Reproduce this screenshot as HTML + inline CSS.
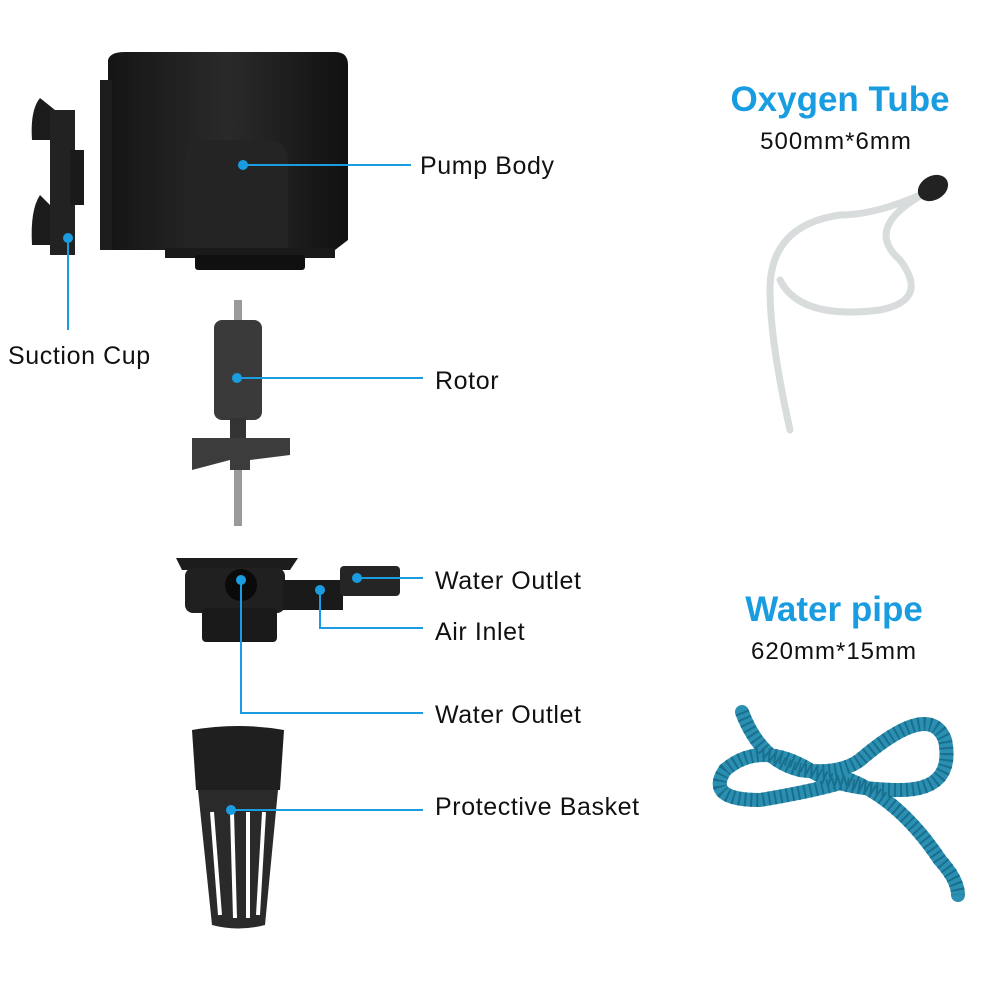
<!DOCTYPE html>
<html><head><meta charset="utf-8"><style>
html,body{margin:0;padding:0;background:#fff;}
svg{display:block}
text{font-family:"Liberation Sans",sans-serif;}
</style></head><body>
<svg width="1000" height="1000" viewBox="0 0 1000 1000" xmlns="http://www.w3.org/2000/svg">
<defs>
<linearGradient id="bk" x1="0" x2="1"><stop offset="0" stop-color="#151515"/><stop offset=".5" stop-color="#2a2a2a"/><stop offset="1" stop-color="#111"/></linearGradient>
</defs>
<!-- suction cup -->
<path d="M40 98 Q30 110 32 140 L55 140 L55 110 Z" fill="#1c1c1c"/>
<path d="M40 195 Q30 210 32 245 L55 245 L55 210 Z" fill="#1c1c1c"/>
<rect x="50" y="110" width="25" height="145" fill="#222"/>
<rect x="70" y="150" width="14" height="55" fill="#1a1a1a"/>
<!-- pump body -->
<path d="M108 60 Q110 52 125 52 L335 52 Q348 52 348 65 L348 240 L335 250 L108 250 Z" fill="url(#bk)"/>
<rect x="100" y="80" width="12" height="170" fill="#1d1d1d"/>
<path d="M185 250 L185 160 Q185 140 205 140 L265 140 Q288 140 288 160 L288 250 Z" fill="#242424"/>
<rect x="165" y="248" width="170" height="10" fill="#1a1a1a"/>
<rect x="195" y="255" width="110" height="15" rx="3" fill="#101010"/>
<!-- rotor -->
<rect x="234" y="300" width="8" height="30" fill="#9a9a9a"/>
<rect x="214" y="320" width="48" height="100" rx="8" fill="#3a3a3a"/>
<rect x="230" y="418" width="16" height="20" fill="#333"/>
<path d="M192 438 L290 438 L290 455 L250 460 L250 470 L230 470 L230 460 L192 470 Z" fill="#3c3c3c"/>
<rect x="234" y="470" width="8" height="56" fill="#9a9a9a"/>
<!-- outlet assembly -->
<path d="M176 558 L298 558 L290 570 L182 570 Z" fill="#1c1c1c"/>
<rect x="185" y="568" width="100" height="45" rx="8" fill="#202020"/>
<rect x="283" y="580" width="60" height="30" fill="#1a1a1a"/>
<rect x="340" y="566" width="60" height="30" rx="4" fill="#252525"/>
<rect x="202" y="608" width="75" height="34" rx="4" fill="#1a1a1a"/>
<ellipse cx="241" cy="585" rx="16" ry="16" fill="#0a0a0a"/>
<!-- basket -->
<path d="M192 730 Q238 722 284 730 L280 790 L196 790 Z" fill="#1f1f1f"/>
<path d="M198 790 L278 790 L265 925 Q238 932 212 925 Z" fill="#2a2a2a"/>
<g stroke="#fff" stroke-width="4">
<line x1="212" y1="812" x2="220" y2="915"/><line x1="232" y1="812" x2="235" y2="918"/><line x1="248" y1="812" x2="248" y2="918"/><line x1="264" y1="812" x2="258" y2="915"/>
</g>
<!-- leader lines -->
<g stroke="#1a9de0" stroke-width="2" fill="none">
<line x1="243" y1="165" x2="411" y2="165"/>
<line x1="68" y1="238" x2="68" y2="330"/>
<line x1="237" y1="378" x2="423" y2="378"/>
<line x1="357" y1="578" x2="423" y2="578"/>
<polyline points="320,590 320,628 423,628"/>
<polyline points="241,580 241,713 423,713"/>
<line x1="231" y1="810" x2="423" y2="810"/>
</g>
<g fill="#1a9de0">
<circle cx="243" cy="165" r="5"/><circle cx="68" cy="238" r="5"/><circle cx="237" cy="378" r="5"/>
<circle cx="357" cy="578" r="5"/><circle cx="320" cy="590" r="5"/><circle cx="241" cy="580" r="5"/><circle cx="231" cy="810" r="5"/>
</g>
<g font-size="25" fill="#111" letter-spacing="0.6">
<text x="420" y="174">Pump Body</text>
<text x="8" y="364">Suction Cup</text>
<text x="435" y="389">Rotor</text>
<text x="435" y="589">Water Outlet</text>
<text x="435" y="640">Air Inlet</text>
<text x="435" y="723">Water Outlet</text>
<text x="435" y="815">Protective Basket</text>
</g>
<text x="840" y="111" font-size="35" font-weight="600" fill="#1a9de0" text-anchor="middle">Oxygen Tube</text>
<text x="836" y="149" font-size="24" fill="#111" text-anchor="middle" letter-spacing="1">500mm*6mm</text>
<text x="834" y="621" font-size="35" font-weight="600" fill="#1a9de0" text-anchor="middle">Water pipe</text>
<text x="834" y="659" font-size="24" fill="#111" text-anchor="middle" letter-spacing="1">620mm*15mm</text>
<!-- oxygen tube -->
<path d="M935 188 Q880 215 840 215 Q770 225 770 290 Q770 340 790 430 M935 188 Q860 225 900 260 Q930 300 880 310 Q800 320 780 280" stroke="#d8dcdc" stroke-width="7" fill="none" stroke-linecap="round"/>
<ellipse cx="933" cy="188" rx="16" ry="12" fill="#222" transform="rotate(-30 933 188)"/>
<!-- water pipe -->
<path d="M742 712 Q760 760 800 770 Q840 775 860 760 Q930 700 945 740 Q955 790 900 790 Q840 790 810 770 Q760 740 725 770 Q705 800 760 800 Q820 790 850 780 Q900 800 940 860 Q958 880 958 895" stroke="#2a8fb0" stroke-width="14" fill="none" stroke-linecap="round"/>
<path d="M742 712 Q760 760 800 770 Q840 775 860 760 Q930 700 945 740 Q955 790 900 790 Q840 790 810 770 Q760 740 725 770 Q705 800 760 800 Q820 790 850 780 Q900 800 940 860 Q958 880 958 895" stroke="#1a6f8f" stroke-width="14" fill="none" stroke-dasharray="2 4"/>
</svg>
</body></html>
